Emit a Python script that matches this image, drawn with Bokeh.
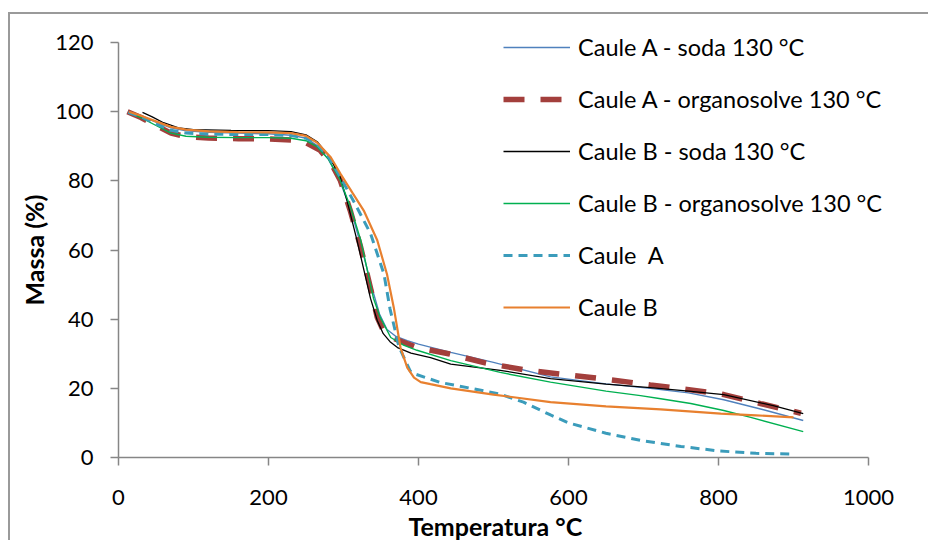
from bokeh.plotting import figure
from bokeh.models import Range1d, Legend, LegendItem, FixedTicker, Title
from bokeh.embed import file_html
from bokeh.resources import INLINE

# ---- data ----
labels = ["Caule A - soda 130 °C", "Caule A - organosolve 130 °C", "Caule B - soda 130 °C",
          "Caule B - organosolve 130 °C", "Caule  A", "Caule B"]

t_a_soda = [14, 30, 50, 70, 90, 120, 160, 200, 230, 250, 265, 280, 295, 310, 325, 338, 348, 358, 370, 385,
            400, 443, 500, 576, 650, 709, 760, 807, 860, 913]
m_a_soda = [99.8, 98.8, 97, 95.3, 94.5, 94.0, 93.8, 93.6, 93.2, 92.3, 90.2, 86.2, 80, 71.5, 60, 49, 41.5, 37,
            35, 33.8, 32.8, 30.4, 27.5, 23.3, 21.3, 20, 18.7, 16.7, 13.8, 10.7]

t_a_org = [12, 30, 50, 70, 90, 120, 160, 200, 230, 250, 269, 285, 296, 309, 323, 336, 345, 353, 367, 398,
           440, 490, 540, 593, 652, 709, 758, 807, 856, 910]
m_a_org = [100, 98.3, 96, 93.8, 92.8, 92.4, 92.2, 92.1, 91.8, 91, 88.8, 84.5, 80, 71.4, 60.7, 49, 40.5, 36.7,
           34.4, 31.8, 30, 27.3, 25.4, 24, 22.6, 21, 19.7, 18.2, 15.6, 12.8]

t_b_soda = [32, 45, 60, 80, 100, 150, 200, 230, 250, 265, 280, 295, 305, 318, 336, 345, 353, 362, 372, 390,
            416, 443, 509, 576, 650, 709, 760, 807, 873, 913]
m_b_soda = [99.8, 98.5, 96.8, 95.3, 94.8, 94.6, 94.5, 94.2, 93.3, 91.3, 87.3, 81.5, 74, 62.8, 46, 39.6, 35.8,
            33.5, 31.8, 30.2, 28.9, 27, 25.2, 22.8, 21.2, 20.2, 19.2, 18.2, 15, 12.7]

t_b_org = [15, 30, 50, 70, 90, 120, 160, 200, 230, 250, 265, 280, 295, 310, 323, 340, 349, 363, 380, 398,
           443, 509, 576, 650, 696, 723, 763, 807, 843, 913]
m_b_org = [99.5, 98.3, 96, 93.8, 92.9, 92.6, 92.5, 92.5, 92.3, 91.6, 89.8, 86.2, 80.5, 72, 62.8, 46, 40.5,
           34.7, 32.5, 31, 28, 24.6, 21.8, 19.2, 17.9, 17, 15.6, 13.6, 11.6, 7.5]

t_a = [13, 30, 50, 70, 90, 120, 160, 200, 230, 250, 265, 280, 296, 315, 336, 354, 362, 374, 389, 393, 429,
       470, 509, 540, 576, 600, 650, 700, 750, 800, 850, 900]
m_a = [99.8, 98.5, 96.5, 94.6, 93.8, 93.5, 93.4, 93.4, 93.1, 92.3, 90.5, 87, 81, 73.5, 64.8, 53, 43, 32, 25,
       24.3, 21.7, 20, 18.3, 16, 12.3, 10, 7, 4.8, 3.2, 1.9, 1.2, 1.0]

t_b = [14, 30, 50, 70, 90, 120, 160, 200, 230, 250, 265, 283, 296, 312, 327, 345, 358, 367, 376, 385, 394,
       403, 416, 443, 500, 576, 650, 723, 803, 850, 900]
m_b = [100, 98.8, 97.2, 95.6, 94.8, 94.3, 94.1, 94, 93.8, 93, 91, 86.8, 82, 76.5, 71.4, 62.8, 53, 43.4, 31.8,
       26, 23.1, 21.8, 21.2, 20, 18.2, 16, 14.8, 13.9, 12.7, 12.2, 11.6]

x_ticks = [0, 200, 400, 600, 800, 1000]
y_ticks = [0, 20, 40, 60, 80, 100, 120]
x_lim = (0, 1000)
y_lim = (0, 120)
x_title = "Temperatura °C"
y_title = "Massa (%)"

FONT = "Lato"

# frame is larger than the axes (the legend sits partly outside the 0-1000 / 0-120 box);
# axis lines are limited to the data limits with `bounds`
PX_X = 750 / (x_lim[1] - x_lim[0])
PX_Y = 415 / (y_lim[1] - y_lim[0])
FW, FH = 800, 435
p = figure(frame_width=FW, frame_height=FH, output_backend="svg", toolbar_location=None,
           x_range=Range1d(x_lim[0], x_lim[0] + FW / PX_X),
           y_range=Range1d(y_lim[0], y_lim[0] + FH / PX_Y),
           min_border_left=108, min_border_right=10, min_border_top=8, min_border_bottom=83)
p.styles = {"margin-left": "8px", "margin-top": "12px",
            "border-left": "2px solid #9a9a9a", "border-top": "2px solid #9a9a9a"}
p.outline_line_color = None
p.grid.visible = False
p.background_fill_color = "white"
p.border_fill_color = "white"

series = [
    (t_a_soda, m_a_soda, dict(line_color="#4F81BD", line_width=1.4)),
    (t_a_org, m_a_org, dict(line_color="#A33F3C", line_width=5.5, line_dash="21 16")),
    (t_b_soda, m_b_soda, dict(line_color="#000000", line_width=1.3)),
    (t_b_org, m_b_org, dict(line_color="#00B050", line_width=1.4)),
    (t_a, m_a, dict(line_color="#3B9CBB", line_width=3, line_dash="9 6")),
    (t_b, m_b, dict(line_color="#E8802F", line_width=2.2)),
]
items = []
for (xs, ys, st), lab in zip(series, labels):
    r = p.line(xs, ys, **st)
    items.append(LegendItem(label=lab, renderers=[r]))

for ax in (p.xaxis[0], p.yaxis[0]):
    ax.axis_line_color = "#868686"
    ax.axis_line_width = 1.5
    ax.major_tick_line_color = "#868686"
    ax.major_tick_line_width = 1.5
    ax.major_tick_in = 0
    ax.major_tick_out = 8
    ax.minor_tick_line_color = None
    ax.major_label_text_font = FONT
    ax.major_label_text_font_size = "22px"
    ax.major_label_text_color = "black"

p.xaxis.bounds = x_lim
p.yaxis.bounds = y_lim
p.xaxis.ticker = FixedTicker(ticks=x_ticks)
p.yaxis.ticker = FixedTicker(ticks=y_ticks)
p.xaxis.major_label_standoff = 24
p.yaxis.major_label_standoff = 17

# axis titles as side titles so they can be centred on the 0-1000 / 0-120 axes
p.add_layout(Title(text=x_title, align="left", offset=290, standoff=3,
                   text_font=FONT, text_font_style="bold", text_font_size="25px",
                   text_color="black"), "below")
p.add_layout(Title(text=y_title, align="left", offset=152, standoff=8,
                   text_font=FONT, text_font_style="bold", text_font_size="25px",
                   text_color="black"), "left")

legend = Legend(items=items, location=(385, 136), orientation="vertical",
                glyph_width=67, glyph_height=20, label_height=20, spacing=24,
                label_standoff=8, padding=0, margin=0,
                label_text_font=FONT, label_text_font_size="23.5px", label_text_color="black",
                border_line_color=None, background_fill_alpha=0)
p.add_layout(legend)

open("out.html", "w").write(file_html(p, INLINE))
